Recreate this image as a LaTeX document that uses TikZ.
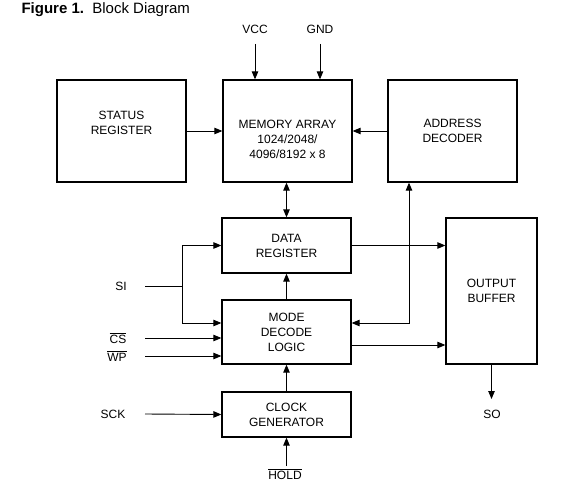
\documentclass[tikz,border=0pt]{standalone}
\usepackage{fontspec}
\setmainfont{Liberation Sans}
\usetikzlibrary{arrows.meta}
\tikzset{every node/.append style={font=\fontsize{12}{15}\selectfont}}
\tikzset{
  blk/.style={draw, line width=1.3pt, minimum width=129pt, inner sep=0pt, align=center},
  sig/.style={inner sep=0pt},
  wire/.style={line width=0.9pt, -{Triangle[length=8pt,width=6.5pt]}},
  bwire/.style={line width=0.9pt, {Triangle[length=8pt,width=6.5pt]}-{Triangle[length=8pt,width=6.5pt]}},
}

\begin{document}
\begin{tikzpicture}[x=1pt, y=-1pt]
    \useasboundingbox (0,0) rectangle (580,484);

    % Title
    \node[anchor=west, font=\fontsize{15}{17}\selectfont] (title) at (18,10) {\textbf{Figure 1.}\ \ Block Diagram};

    % Blocks
    \node[blk, minimum height=102pt] (status) at (121.5,131) {};
    \node[align=center] (statustxt) at (121.5,123) {STATUS\\REGISTER};
    \node[blk, minimum height=102pt] (mem) at (287.5,131) {};
    \node[align=center] (memtxt) at (287.5,139) {MEMORY ARRAY\\1024/2048/\\4096/8192 x 8};
    \node[blk, minimum height=102pt] (addr) at (452.5,131) {ADDRESS\\DECODER};
    \node[blk, minimum height=55pt] (data) at (286.5,245.5) {DATA\\REGISTER};
    \node[blk, minimum height=64pt] (mode) at (286.5,332) {MODE\\DECODE\\LOGIC};
    \node[blk, minimum height=45pt] (clock) at (286.5,414.5) {CLOCK\\GENERATOR};
    \node[blk, minimum width=91pt, minimum height=146pt] (outbuf) at (491.5,291) {OUTPUT\\BUFFER};

    % Pin labels
    \node[sig] (vcc) at (255,29) {VCC};
    \node[sig] (gnd) at (320,29) {GND};
    \node[sig] (si) at (121,286) {SI};
    \node[sig] (cs) at (118,338) {$\overline{\mbox{CS}}$};
    \node[sig] (wp) at (117,356) {$\overline{\mbox{WP}}$};
    \node[sig] (sck) at (113,414) {SCK};
    \node[sig] (so) at (492,414) {SO};
    \node[sig] (hold) at (285,474) {$\overline{\mbox{HOLD}}$};

    % Free wire ends
    \coordinate (vccend) at (255,44);
    \coordinate (gndend) at (320,44);
    \coordinate (siend) at (145,286);
    \coordinate (sij) at (182,286);
    \coordinate (csend) at (145,338);
    \coordinate (wpend) at (145,356);
    \coordinate (sckend) at (145,414);
    \coordinate (holdend) at (286.5,466);
    \coordinate (soend) at (491.5,399);
    \coordinate (fb) at (409,323);

    % Power
    \draw[wire] (vccend) -- (vccend |- mem.north);
    \draw[wire] (gndend) -- (gndend |- mem.north);

    % Into the memory array
    \draw[wire] (status.east) -- (mem.west);
    \draw[wire] (addr.west) -- (mem.east);
    \draw[bwire] (mem.south -| data.north) -- (data.north);

    % Serial input
    \draw[line width=0.9pt] (siend) -- (sij);
    \draw[wire] (sij) |- (data.west);
    \draw[wire] (sij) |- (mode.west |- fb);
    \draw[wire] (csend) -- (csend -| mode.west);
    \draw[wire] (wpend) -- (wpend -| mode.west);
    \draw[wire] (sckend) -- (clock.west);
    \draw[wire] (holdend) -- (clock.south);

    % Control paths
    \draw[wire] (clock.north) -- (mode.south);
    \draw[wire] (mode.north) -- (data.south);
    \draw[bwire] (mode.east |- fb) -- (fb) -- (fb |- addr.south);

    % Output side
    \draw[wire] (data.east) -- (data.east -| outbuf.west);
    \draw[wire] ([yshift=-13pt]mode.east) -- ([yshift=-13pt]mode.east -| outbuf.west);
    \draw[wire] (outbuf.south) -- (soend);
\end{tikzpicture}
\end{document}
